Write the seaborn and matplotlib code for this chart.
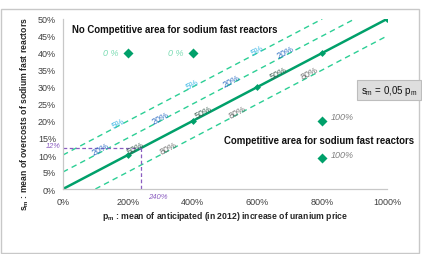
import numpy as np
import pandas as pd
import matplotlib
matplotlib.use("Agg")
import matplotlib.pyplot as plt
from matplotlib.patches import Rectangle
import seaborn as sns

# ---- data ----
main_p = [0, 200, 400, 600, 800, 1000]
main_s = [0, 10, 20, 30, 40, 50]

band_names = ["+10", "+5", "-5"]
band_p_start = [0, 0, 100]
band_p_end = [800, 900, 1000]
band_offset = [10, 5, -5]

zero_p = [200, 400]
zero_s = [40, 40]
hundred_p = [800, 800]
hundred_s = [20, 9]

lab5_p = [170, 400, 600]
lab20_p = [115, 300, 520, 687]
lab50_p = [223, 433, 665]
lab80_p = [325, 538, 762]

guide_p = 240
guide_s = 12

x_ticks = [0, 200, 400, 600, 800, 1000]
y_ticks = [0, 5, 10, 15, 20, 25, 30, 35, 40, 45, 50]

# ---- style ----
sns.set_style("white")
plt.rcParams["font.family"] = ["Liberation Sans", "DejaVu Sans"]
plt.rcParams["mathtext.fontset"] = "custom"
plt.rcParams["mathtext.rm"] = "Liberation Sans"
plt.rcParams["mathtext.it"] = "Liberation Sans:italic"
plt.rcParams["mathtext.bf"] = "Liberation Sans:bold"

GREEN = "#00a06a"
DGREEN = "#2ccf95"
fig = plt.figure(figsize=(4.22, 2.55), dpi=100)
ax = fig.add_axes([63 / 422, 1 - 190 / 255, (387 - 63) / 422, (190 - 20) / 255])
ax.set_xlim(0, 1000)
ax.set_ylim(0, 50)

# dashed band lines
for name, p0, p1, off in zip(band_names, band_p_start, band_p_end, band_offset):
    df = pd.DataFrame({"p": [p0, p1], "s": [0.05 * p0 + off, 0.05 * p1 + off]})
    sns.lineplot(data=df, x="p", y="s", ax=ax, color=DGREEN, lw=1.0,
                 linestyle=(0, (4, 3)), legend=False)

# main line
dfm = pd.DataFrame({"p": main_p, "s": main_s})
sns.lineplot(data=dfm, x="p", y="s", ax=ax, color=GREEN, lw=1.8,
             marker="D", markersize=3.5, markeredgewidth=0, legend=False)

# guide lines
ax.plot([0, guide_p], [guide_s, guide_s], color="#8a5cc0", lw=0.9, ls=(0, (3, 2)))
ax.plot([guide_p, guide_p], [0, guide_s], color="#8a5cc0", lw=0.9, ls=(0, (3, 2)))

# scatter points
dfz = pd.DataFrame({"p": zero_p + hundred_p, "s": zero_s + hundred_s})
sns.scatterplot(data=dfz, x="p", y="s", ax=ax, marker="D", s=26, color=GREEN,
                edgecolor=GREEN, linewidth=0, zorder=5, legend=False)
for p, s in zip(zero_p, zero_s):
    ax.text(p - 28, s, "0 %", color="#7ddcb4", style="italic", fontsize=6.5,
            ha="right", va="center")
for p, s in zip(hundred_p, hundred_s):
    ax.text(p + 25, s + 1.2, "100%", color="#808080", style="italic", fontsize=6.5,
            ha="left", va="center")

# rotated labels
def angle_of(slope):
    p1 = ax.transData.transform((0, 0))
    p2 = ax.transData.transform((100, 100 * slope))
    return np.degrees(np.arctan2(p2[1] - p1[1], p2[0] - p1[0]))

ang = angle_of(0.05)
for plist, off, txt, col in [(lab5_p, 10, "5%", "#3bb6e6"), (lab20_p, 5, "20%", "#2f6fc4"),
                             (lab50_p, 0, "50%", "#3c5e52"), (lab80_p, -5, "80%", "#6e6e6e")]:
    for p in plist:
        ax.text(p, 0.05 * p + off + 1.0, txt,
                color=col, fontsize=6.5, rotation=ang, rotation_mode="anchor",
                ha="center", va="center")

# area texts
ax.text(28, 47, "No Competitive area for sodium fast reactors", fontsize=6.9,
        fontweight="bold", ha="left", va="center", color="#111111")
fig.text(414 / 422, 1 - 141 / 255, "Competitive area for sodium fast reactors",
         fontsize=6.9, fontweight="bold", ha="right", va="center", color="#111111")

# formula box
fig.text(389 / 422, 1 - 91 / 255, r"s$_{\mathrm{m}}$ = 0,05 p$_{\mathrm{m}}$", fontsize=7,
         ha="center", va="center", color="#111111",
         bbox=dict(boxstyle="square,pad=0.35", fc="#dedede", ec="#bdbdbd", lw=0.8))

# guide labels
ax.text(-8, guide_s + 0.8, "12%", color="#8a5cc0", style="italic", fontsize=5.3,
        ha="right", va="center", clip_on=False)
ax.text(guide_p + 22, -2.3, "240%", color="#8a5cc0", style="italic", fontsize=5.5,
        ha="left", va="center", clip_on=False)

# axes formatting
ax.set_xticks(x_ticks)
ax.set_xticklabels([f"{v}%" for v in x_ticks])
ax.set_yticks(y_ticks)
ax.set_yticklabels([f"{v}%" for v in y_ticks])
ax.tick_params(axis="both", labelsize=6.5, colors="#c8c8c8", labelcolor="#404040",
               length=3, width=0.8, pad=2)
ax.tick_params(axis="x", pad=3)
for side in ["top", "right"]:
    ax.spines[side].set_visible(False)
for side in ["left", "bottom"]:
    ax.spines[side].set_color("#c8c8c8")
    ax.spines[side].set_linewidth(0.9)

ax.set_xlabel(r"$\mathbf{p}_{\mathbf{m}}$ : mean of anticipated (in 2012) increase of uranium price",
              fontsize=6.2, fontweight="bold", labelpad=2)
ax.set_ylabel(r"$\mathbf{s}_{\mathbf{m}}$ : mean of overcosts of sodium fast reactors",
              fontsize=6.2, fontweight="bold", labelpad=2)
ax.yaxis.set_label_coords(-0.1, 0.447)

# outer frame
fig.patches.append(Rectangle((1 / 422, 1 / 255), 418 / 422, 244 / 255,
                             transform=fig.transFigure, fill=False,
                             ec="#c8c8c8", lw=1.0))

fig.savefig("out.png", dpi=100)
